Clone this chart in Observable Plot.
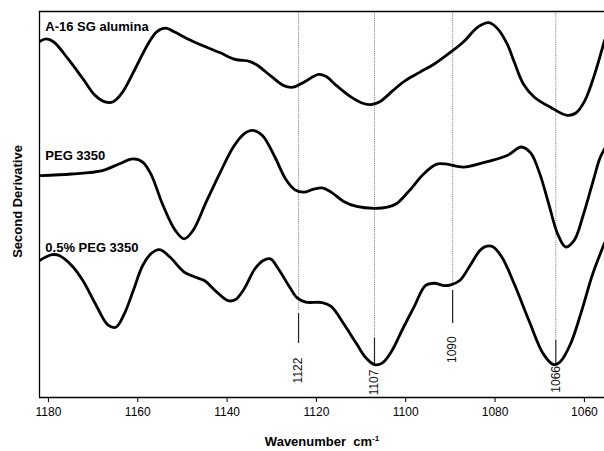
<!DOCTYPE html>
<html>
<head>
<meta charset="utf-8">
<script src="https://cdn.jsdelivr.net/npm/d3@7"></script>
<script src="https://cdn.jsdelivr.net/npm/@observablehq/plot@0.6"></script>
<style>
html, body { margin: 0; padding: 0; background: #fff; }
</style>
</head>
<body>
<div id="chart"></div>
<script>
// ---- Data ----
const seriesNames = ["A-16 SG alumina", "PEG 3350", "0.5% PEG 3350"];

const aluminaWn  = [1182.0, 1180.5, 1178.8, 1175.6, 1172.3, 1169.5, 1167.1, 1165.4, 1163.4, 1160.6, 1157.7, 1155.7, 1153.8, 1151.6, 1148.8, 1144.7, 1141.5, 1138.2, 1135.0, 1133.4, 1130.1, 1127.3, 1125.2, 1122.8, 1119.5, 1117.9, 1115.5, 1112.2, 1109.8, 1107.8, 1105.7, 1102.9, 1100.1, 1096.8, 1093.6, 1089.9, 1087.1, 1083.8, 1081.4, 1079.4, 1077.3, 1075.7, 1073.7, 1071.2, 1067.6, 1063.9, 1061.9, 1059.9, 1057.8, 1055.5];
const aluminaVal = [92.2, 92.9, 92.1, 87.7, 82.6, 78.2, 76.5, 76.7, 79.1, 85.1, 91.6, 94.8, 95.7, 94.6, 92.9, 90.8, 89.3, 87.6, 87.1, 86.2, 83.2, 80.8, 80.4, 81.7, 83.7, 83.2, 80.8, 77.8, 76.3, 75.9, 76.7, 79.5, 82.1, 84.3, 86.4, 89.5, 92.1, 96.0, 97.1, 95.5, 91.6, 86.9, 81.3, 77.8, 75.2, 73.1, 73.7, 76.9, 83.4, 92.5];

const pegWn  = [1181.7, 1174.8, 1167.9, 1164.2, 1161.1, 1158.9, 1156.9, 1154.5, 1151.6, 1149.6, 1147.6, 1144.7, 1141.5, 1138.6, 1136.2, 1134.3, 1132.1, 1129.3, 1126.9, 1124.8, 1122.8, 1120.8, 1118.7, 1116.7, 1113.9, 1111.0, 1107.0, 1104.1, 1102.1, 1099.2, 1096.0, 1093.2, 1091.1, 1087.1, 1083.0, 1077.3, 1074.1, 1072.0, 1070.0, 1068.0, 1066.0, 1064.2, 1062.3, 1060.3, 1057.8, 1056.6, 1055.5];
const pegVal = [57.5, 57.9, 58.8, 60.5, 61.8, 61.0, 57.5, 50.2, 43.3, 41.1, 43.3, 50.6, 58.4, 64.9, 68.3, 69.2, 67.9, 62.3, 56.6, 53.8, 53.2, 53.9, 54.3, 53.2, 50.8, 49.5, 49.0, 49.3, 50.2, 53.6, 57.9, 60.4, 60.5, 59.7, 60.7, 62.7, 64.9, 63.3, 58.0, 50.2, 42.4, 39.0, 40.7, 47.1, 57.1, 61.8, 64.4];

const mixWn  = [1182.0, 1179.2, 1177.6, 1174.8, 1172.3, 1169.5, 1166.7, 1164.9, 1163.0, 1161.0, 1158.9, 1156.9, 1155.1, 1152.8, 1149.6, 1147.2, 1145.1, 1142.3, 1139.8, 1138.2, 1136.2, 1133.8, 1131.9, 1130.3, 1128.5, 1126.0, 1124.3, 1122.4, 1118.7, 1116.7, 1113.9, 1111.0, 1109.0, 1107.0, 1105.3, 1103.3, 1100.5, 1098.0, 1095.6, 1093.6, 1091.5, 1089.9, 1087.9, 1085.8, 1083.4, 1082.2, 1080.6, 1078.5, 1075.7, 1072.4, 1069.2, 1066.9, 1065.3, 1063.1, 1060.7, 1058.2, 1055.5];
const mixVal = [35.5, 37.0, 36.8, 34.2, 30.3, 24.3, 18.8, 18.2, 21.7, 27.7, 34.2, 37.4, 38.3, 36.4, 32.5, 31.2, 30.3, 27.3, 25.1, 25.3, 28.1, 33.3, 35.5, 35.9, 33.3, 28.6, 25.8, 24.7, 24.6, 23.6, 19.1, 13.9, 10.4, 8.5, 8.9, 11.7, 18.2, 23.8, 29.0, 29.6, 29.0, 29.2, 30.3, 33.8, 38.1, 39.1, 39.1, 36.4, 29.4, 19.9, 11.3, 8.5, 9.4, 13.9, 22.1, 31.8, 40.0];

const seriesLabelY = [95.9, 62.7, 38.7];

const xTicks = [1180, 1160, 1140, 1120, 1100, 1080, 1060];

const markerLabels      = ["1122", "1107", "1090", "1066"];
const markerWn          = [1124.0, 1107.0, 1089.5, 1066.4];
const markerDotEnd      = [22.5, 15.3, 29.0, 14.8];
const markerLeadTop     = [21.8, 15.3, 27.7, 14.8];
const markerLeadBottom  = [14.0, 8.5, 19.2, 8.5];
const markerLabelY      = [7.0, 3.9, 12.4, 4.7];

// ---- Build tables ----
const wnSets = [aluminaWn, pegWn, mixWn];
const valSets = [aluminaVal, pegVal, mixVal];
const rows = [];
seriesNames.forEach((name, i) => {
  wnSets[i].forEach((w, j) => rows.push({series: name, wn: w, v: valSets[i][j]}));
});
const markers = markerLabels.map((label, i) => ({
  label, wn: markerWn[i], dotEnd: markerDotEnd[i],
  leadTop: markerLeadTop[i], leadBottom: markerLeadBottom[i], labelY: markerLabelY[i]
}));
const xDomain = [1182, 1055.5];
const seriesLabels = seriesNames.map((name, i) => ({name, wn: 1180.7, v: seriesLabelY[i]}));

const FONT = "'Liberation Sans', Arial, Helvetica, sans-serif";

const plot = Plot.plot({
  width: 604,
  height: 451,
  marginLeft: 39,
  marginRight: 0,
  marginTop: 11,
  marginBottom: 54,
  style: {fontFamily: FONT, fontSize: "12px", background: "#fff", color: "#000"},
  x: {domain: xDomain, label: null},
  y: {domain: [0, 100], axis: null},
  marks: [
    Plot.ruleX(markers, {x: "wn", y1: "dotEnd", y2: 100, stroke: "#888", strokeWidth: 1, strokeDasharray: "1.2,1"}),
    Plot.ruleX(markers, {x: "wn", y1: "leadBottom", y2: "leadTop", stroke: "#222", strokeWidth: 1.2}),
    Plot.text(markers, {x: "wn", y: "labelY", text: "label", rotate: -90, fontSize: 12, fill: "#111"}),
    Plot.line(rows, {x: "wn", y: "v", z: "series", stroke: "#000", strokeWidth: 2.8, curve: "catmull-rom", strokeLinejoin: "round", clip: true}),
    Plot.ruleY([0], {stroke: "#000", strokeWidth: 1.3}),
    Plot.ruleY([100], {stroke: "#000", strokeWidth: 1.3}),
    Plot.ruleX([xDomain[0]], {stroke: "#000", strokeWidth: 1.3}),
    Plot.axisX({ticks: xTicks, tickSize: 5, tickPadding: 5, tickFormat: d => String(d), fontSize: 12, label: null, stroke: "#000"}),
    Plot.text(seriesLabels, {x: "wn", y: "v", text: "name", textAnchor: "start", fontWeight: "bold", fontSize: 13, fill: "#000"}),
    Plot.text(["Wavenumber\u00A0 cm"], {frameAnchor: "bottom", dy: 48, fontWeight: "bold", fontSize: 13, fill: "#000"}),
    Plot.text(["Second Derivative"], {frameAnchor: "left", dx: -22, dy: -3, rotate: -90, textAnchor: "middle", fontWeight: "bold", fontSize: 13, fill: "#000"})
  ]
});

// superscript "-1" for the unit
d3.select(plot).selectAll("text")
  .filter(function() { return this.textContent === "Wavenumber\u00A0 cm"; })
  .each(function() {
    d3.select(this).append("tspan").attr("dy", "-5").attr("font-size", 8).text("-1");
  });

document.getElementById("chart").appendChild(plot);
</script>
</body>
</html>
